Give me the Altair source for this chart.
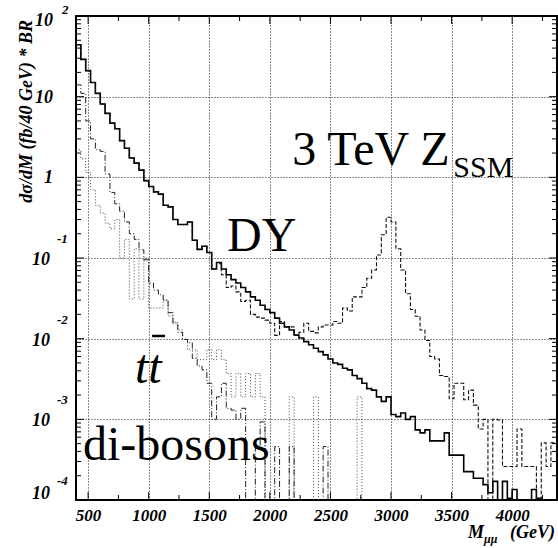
import altair as alt
import pandas as pd

# ---------------- data (40 GeV bins starting at 400 GeV) ----------------
bin_edges = [400 + 40 * i for i in range(101)]

dy_values = [
    44, 29, 21, 15, 11, 8.1, 6.2, 4.7, 4.0, 2.85,
    2.29, 1.74, 1.50, 1.23, 0.91, 0.77, 0.66, 0.62, 0.45, 0.43,
    0.30, 0.26, 0.26, 0.28, 0.166, 0.128, 0.14, 0.117, 0.073, 0.088,
    0.073, 0.062, 0.054, 0.049, 0.043, 0.038, 0.033, 0.030, 0.026, 0.023,
    0.021, 0.018, 0.0155, 0.014, 0.0128, 0.0111, 0.0102, 0.0092, 0.0084, 0.0076,
    0.0069, 0.0063, 0.0056, 0.0050, 0.0048, 0.0043, 0.0041, 0.0035, 0.0032, 0.0028,
    0.0024, 0.0023, 0.0019, 0.00167, 0.0019, 0.00115, 0.00108, 0.0012, 0.0010, 0.00108,
    0.00074, 0.00068, 0.00074, 0.00054, 0.00054, 0.00054, 0.00068, 0.00036, 0.00036, 0.00036,
    0.000225, 0.000225, 0.000186, 0.000186, 0.000155, 0.000123, 0.00017, 0, 0.00017, 0.000105,
    0.000135, 0, 0, 0, 0.000135, 0.000105, 0, 0, 0, 0,
]

total_values = [
    44, 29, 21, 15, 11, 8.1, 6.2, 4.7, 4.0, 2.85,
    2.29, 1.74, 1.50, 1.23, 0.91, 0.77, 0.66, 0.62, 0.45, 0.43,
    0.30, 0.26, 0.26, 0.28, 0.166, 0.128, 0.14, 0.117, 0.073, 0.085,
    0.062, 0.043, 0.045, 0.038, 0.029, 0.030, 0.020, 0.0185, 0.018, 0.017,
    0.0155, 0.011, 0.0163, 0.0140, 0.014, 0.011, 0.012, 0.0155, 0.0123, 0.0118,
    0.014, 0.0148, 0.0148, 0.0163, 0.0155, 0.024, 0.022, 0.033, 0.033, 0.043,
    0.056, 0.071, 0.109, 0.194, 0.32, 0.28, 0.13, 0.071, 0.036, 0.023,
    0.019, 0.0128, 0.0095, 0.006, 0.0056, 0.0035, 0.0034, 0.0018, 0.0028, 0.0028,
    0.00175, 0.0023, 0.0015, 0.00076, 0.0010, 0, 0.0010, 0.00098, 0.00026, 0.00026,
    0.00026, 0.00076, 0.00026, 0.00026, 0.00026, 0, 0.00051, 0.00026, 0.00051, 0.00051,
]

ttbar_values = [
    14, 11, 5.0, 3.0, 2.2, 2.1, 1.1, 0.65, 0.47, 0.38,
    0.28, 0.20, 0.17, 0.126, 0.095, 0.049, 0.040, 0.035, 0.030, 0.021,
    0.0155, 0.012, 0.0098, 0.0089, 0.0057, 0.0046, 0.0041, 0.0028, 0.0010, 0.0019,
    0.0028, 0.00137, 0.0013, 0.0010, 0.00137, 0, 0, 0.00046, 0.00093, 0,
    0, 0.00046, 0, 0, 0.00046, 0, 0, 0, 0, 0,
    0, 0.00046, 0, 0, 0, 0, 0, 0, 0, 0,
    0, 0, 0, 0, 0, 0, 0, 0, 0, 0,
    0, 0, 0, 0, 0, 0, 0, 0, 0, 0,
    0, 0, 0, 0, 0, 0, 0, 0, 0, 0,
    0, 0, 0, 0, 0, 0, 0, 0, 0, 0,
]

diboson_values = [
    2.2, 1.7, 1.15, 0.7, 0.45, 0.36, 0.27, 0.23, 0.30, 0.10,
    0.17, 0.031, 0.13, 0.031, 0.10, 0.024, 0.024, 0.024, 0.030, 0.019,
    0.016, 0.0128, 0.0098, 0.0073, 0.0073, 0.0055, 0.0055, 0.0073, 0.0055, 0.0073,
    0.0055, 0.0037, 0.0019, 0.0037, 0.0019, 0.0037, 0.0019, 0.0037, 0.0019, 0,
    0, 0, 0, 0, 0.0019, 0, 0, 0, 0, 0.0019,
    0, 0, 0, 0, 0, 0, 0, 0, 0.0019, 0,
    0, 0, 0, 0, 0, 0, 0, 0, 0, 0,
    0, 0, 0, 0, 0, 0, 0, 0, 0, 0,
    0, 0, 0, 0, 0, 0, 0, 0, 0, 0,
    0, 0, 0, 0, 0, 0, 0, 0, 0, 0,
]

x_tick_labels = [500, 1000, 1500, 2000, 2500, 3000, 3500, 4000]
x_minor_ticks = [750, 1250, 1750, 2250, 2750, 3250, 3750, 4250]
y_decades = [1e-4, 1e-3, 1e-2, 1e-1, 1, 10, 100]
y_minor_ticks = [m * d for d in [1e-4, 1e-3, 1e-2, 1e-1, 1, 10] for m in range(2, 10)]

# ---------------- helpers ----------------
FLOOR = 1e-7  # empty bins: drawn below the axis and clipped
FONT = "Liberation Serif"
W, H = 481, 484

xscale = alt.Scale(domain=[400, 4370], nice=False, zero=False)
yscale = alt.Scale(type="log", domain=[1e-4, 100], nice=False)

XA = alt.Axis(values=x_tick_labels, grid=True, ticks=False, domain=False, format="d",
              labelPadding=7, labelOverlap=False, labelFlush=False, title=None)
YA = alt.Axis(values=y_decades, grid=True, ticks=False, domain=False,
              labels=False, title=None)


def step_frame(values):
    rows = [{"m": bin_edges[i], "v": max(v, FLOOR)} for i, v in enumerate(values)]
    rows.append({"m": bin_edges[len(values)], "v": max(values[-1], FLOOR)})
    return pd.DataFrame(rows)


def hist(values, color, width, dash=None):
    kw = dict(interpolate="step-after", clip=True, color=color, strokeWidth=width)
    if dash:
        kw["strokeDash"] = dash
    return alt.Chart(step_frame(values)).mark_line(**kw).encode(
        x=alt.X("m:Q", scale=xscale, axis=XA),
        y=alt.Y("v:Q", scale=yscale, axis=YA),
    )


def xticks(vals, y1, y2):
    return alt.Chart(pd.DataFrame({"m": vals})).mark_rule(color="black", strokeWidth=1).encode(
        x=alt.X("m:Q", scale=xscale, axis=XA), y=alt.value(y1), y2=alt.value(y2))


def yticks(vals, x1, x2):
    return alt.Chart(pd.DataFrame({"v": vals})).mark_rule(color="black", strokeWidth=1).encode(
        y=alt.Y("v:Q", scale=yscale, axis=YA), x=alt.value(x1), x2=alt.value(x2))


def ylabels(vals, texts, xpix, align, dy, size):
    return alt.Chart(pd.DataFrame({"v": vals, "t": texts})).mark_text(
        align=align, baseline="middle", dy=dy, font=FONT, fontSize=size,
        fontStyle="italic", fontWeight="bold", color="black").encode(
        y=alt.Y("v:Q", scale=yscale, axis=YA), x=alt.value(xpix), text="t:N")


one = pd.DataFrame({"k": [0]})


def note(text, xv, yv, size, style="normal", weight="normal"):
    return alt.Chart(one).mark_text(
        text=text, align="left", baseline="alphabetic", font=FONT, fontSize=size,
        fontStyle=style, fontWeight=weight, color="black").encode(
        x=alt.X(datum=xv, scale=xscale, axis=XA), y=alt.Y(datum=yv, scale=yscale, axis=YA))


def pixtext(text, xpix, ypix, size, align="left", angle=0, baseline="alphabetic"):
    return alt.Chart(one).mark_text(
        text=text, align=align, baseline=baseline, angle=angle, font=FONT, fontSize=size,
        fontStyle="italic", fontWeight="bold", color="black").encode(
        x=alt.value(xpix), y=alt.value(ypix))


layers = [
    hist(dy_values, "black", 1.6),
    hist(diboson_values, "#444444", 1.0, dash=[1, 2]),
    hist(ttbar_values, "#222222", 1.0, dash=[6, 2, 1, 2]),
    hist(total_values, "#111111", 1.1, dash=[4, 2]),
    # inward ticks on all four sides
    xticks(x_tick_labels, H, H - 8), xticks(x_minor_ticks, H, H - 5),
    xticks(x_tick_labels, 0, 8), xticks(x_minor_ticks, 0, 5),
    yticks(y_decades, 0, 8), yticks(y_minor_ticks, 0, 5),
    yticks(y_decades, W, W - 8), yticks(y_minor_ticks, W, W - 5),
    # y tick labels  (10 with superscript exponents)
    ylabels([0.1, 0.01, 0.001], ["10", "10", "10"], -26, "right", 2, 18),
    ylabels([1e-4], ["10"], -26, "right", -6, 18),
    ylabels([10, 1], ["10", "1"], -23, "right", 1, 18),
    ylabels([100], ["10"], -23, "right", 5, 18),
    ylabels([0.1, 0.01, 0.001, 1e-4], ["-1", "-2", "-3", "-4"], -19, "left", -19, 13),
    ylabels([100], ["2"], -14, "left", -6, 13),
    # axis titles
    pixtext("dσ/dM (fb/40 GeV) * BR", -49, 4, 18, align="right", angle=270, baseline="middle"),
    pixtext("M", 392, 522, 18),
    pixtext("μμ", 408, 527, 12),
    pixtext("(GeV)", 434, 522, 18),
    # annotations
    note("3 TeV Z", 2184, 1.43, 48),
    note("SSM", 3514, 1.01, 30),
    note("DY", 1647, 0.1225, 48),
    note("tt", 887, 0.00283, 48, style="italic"),
    alt.Chart(one).mark_rule(color="black", strokeWidth=2.5).encode(
        x=alt.X(datum=1028, scale=xscale, axis=XA), x2=alt.X2(datum=1135),
        y=alt.Y(datum=0.0108, scale=yscale, axis=YA)),
    note("di-bosons", 458, 3.16e-4, 48),
]

chart = alt.layer(*layers).properties(
    width=W, height=H,
    autosize=alt.AutoSizeParams(type="none"),
    padding={"left": 76, "top": 16, "right": 1, "bottom": 48},
    background="white",
).configure_view(
    stroke="black", strokeWidth=2
).configure_axis(
    gridColor="black", gridDash=[1, 2], gridWidth=1, gridOpacity=0.9,
    labelFont=FONT, labelFontSize=17, labelFontStyle="italic",
    labelFontWeight="bold", labelColor="black",
)

chart.save("out.html", embed_options={"renderer": "svg", "actions": False})
